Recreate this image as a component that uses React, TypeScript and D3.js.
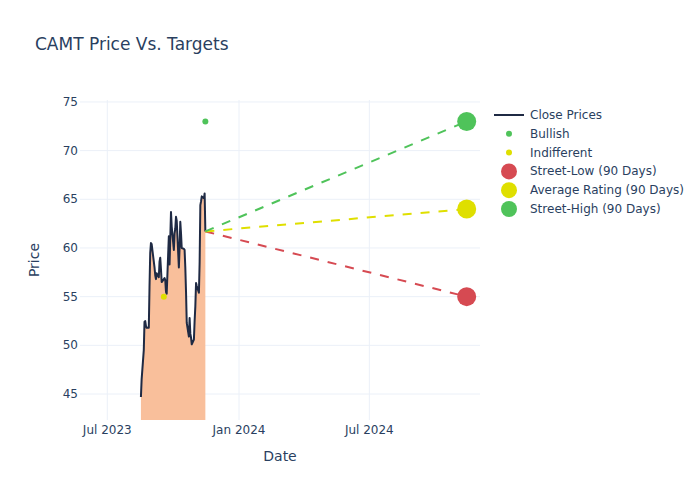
import React from "react";
import * as d3 from "d3";

const priceDates = [
  "2023-08-17","2023-08-18","2023-08-21","2023-08-22","2023-08-23","2023-08-24","2023-08-25",
  "2023-08-28","2023-08-29","2023-08-30","2023-08-31","2023-09-01",
  "2023-09-05","2023-09-06","2023-09-07","2023-09-08",
  "2023-09-11","2023-09-12","2023-09-13","2023-09-14","2023-09-15",
  "2023-09-18","2023-09-19","2023-09-20","2023-09-21","2023-09-22",
  "2023-09-25","2023-09-26","2023-09-27","2023-09-28","2023-09-29",
  "2023-10-02","2023-10-03","2023-10-04","2023-10-05","2023-10-06",
  "2023-10-09","2023-10-10","2023-10-11","2023-10-12","2023-10-13",
  "2023-10-16","2023-10-17","2023-10-18","2023-10-19","2023-10-20",
  "2023-10-23","2023-10-24","2023-10-25","2023-10-26","2023-10-27",
  "2023-10-30","2023-10-31","2023-11-01","2023-11-02","2023-11-03",
  "2023-11-06","2023-11-07","2023-11-08","2023-11-09","2023-11-10",
  "2023-11-13","2023-11-14","2023-11-15",
];
const closePrices = [
  44.7, 46.5, 49.5, 52.4, 52.5, 52.0, 51.8,
  51.8, 56.0, 59.5, 60.5, 60.4,
  58.0, 57.2, 56.8, 57.4,
  57.0, 58.6, 59.0, 57.8, 56.5,
  56.8, 56.9, 56.7, 55.5, 55.3,
  61.2, 58.3, 61.0, 63.7, 62.2,
  59.8, 61.5, 62.0, 63.2, 62.8,
  58.0, 60.0, 62.7, 61.5, 60.0,
  59.9, 59.8, 58.0, 55.5, 52.3,
  50.9, 52.8, 51.2, 50.8, 50.1,
  50.6, 52.5, 54.0, 56.4, 56.1,
  55.4, 58.5, 64.4, 64.8, 65.3,
  65.1, 65.6, 61.7,
];

const bullishDates = ["2023-11-15"];
const bullishValues = [73];
const indifferentDates = ["2023-09-18"];
const indifferentValues = [55];

const targetStartDate = "2023-11-15";
const targetEndDate = "2024-11-14";
const targetNames = ["Street-Low (90 Days)", "Average Rating (90 Days)", "Street-High (90 Days)"];
const targetValues = [55, 64, 73];
const targetColors = ["#d64a52", "#dfdf00", "#4fc35a"];

const yTicks = [45, 50, 55, 60, 65, 70, 75];

const W = 700, H = 500;
const M = { l: 80, r: 220, t: 100, b: 80 };
const FONT = '"DejaVu Sans", Verdana, sans-serif';
const TXT = "#2a3f5f";
const GRID = "#ebf0f8";

const parse = (s: string) => new Date(s + "T00:00:00Z");

export default function App() {
  const x = d3
    .scaleUtc()
    .domain([new Date(Date.UTC(2023, 4, 23, 22)), new Date(Date.UTC(2024, 11, 2, 14))])
    .range([M.l, W - M.r]);
  const y = d3.scaleLinear().domain([42.33, 75.2]).range([H - M.b, M.t]);

  const pts = priceDates.map((d, i) => ({ d: parse(d), v: closePrices[i] }));
  const line = d3.line<{ d: Date; v: number }>().x((p) => x(p.d)).y((p) => y(p.v));
  const area = d3
    .area<{ d: Date; v: number }>()
    .x((p) => x(p.d))
    .y0(y(0))
    .y1((p) => y(p.v));

  const xTicks = x.ticks(d3.utcMonth.every(6)!).filter((t) => x(t) >= M.l && x(t) <= W - M.r);
  const fmt = d3.utcFormat("%b %Y");
  const lastPrice = closePrices[closePrices.length - 1];

  const legendItems = [
    { name: "Close Prices", kind: "line", color: "#1f2a44" },
    { name: "Bullish", kind: "small", color: "#4fc35a" },
    { name: "Indifferent", kind: "small", color: "#dfdf00" },
    ...targetNames.map((n, i) => ({ name: n, kind: "big", color: targetColors[i] })),
  ];

  return (
    <svg
      width={W}
      height={H}
      style={{ position: "absolute", left: 0, top: 0, background: "#fff" }}
      fontFamily={FONT}
    >
      <defs>
        <clipPath id="plot">
          <rect x={M.l} y={M.t} width={W - M.l - M.r} height={H - M.t - M.b} />
        </clipPath>
      </defs>
      <text x={35} y={50} fontSize={17} fill={TXT}>
        CAMT Price Vs. Targets
      </text>
      {/* grid */}
      {yTicks.map((t) => (
        <line key={"gy" + t} x1={M.l} x2={W - M.r} y1={y(t)} y2={y(t)} stroke={GRID} strokeWidth={1} />
      ))}
      {xTicks.map((t) => (
        <line key={"gx" + t.getTime()} x1={x(t)} x2={x(t)} y1={M.t} y2={H - M.b} stroke={GRID} strokeWidth={1} />
      ))}
      <g clipPath="url(#plot)">
        <path d={area(pts)!} fill="#f9bf9b" />
        <path d={line(pts)!} fill="none" stroke="#1f2a44" strokeWidth={2} strokeLinejoin="round" />
        {targetValues.map((v, i) => (
          <line
            key={"tl" + i}
            x1={x(parse(targetStartDate))}
            y1={y(lastPrice)}
            x2={x(parse(targetEndDate))}
            y2={y(v)}
            stroke={targetColors[i]}
            strokeWidth={2}
            strokeDasharray="9,9"
          />
        ))}
        {bullishDates.map((d, i) => (
          <circle key={"b" + i} cx={x(parse(d))} cy={y(bullishValues[i])} r={3} fill="#4fc35a" />
        ))}
        {indifferentDates.map((d, i) => (
          <circle key={"n" + i} cx={x(parse(d))} cy={y(indifferentValues[i])} r={3} fill="#dfdf00" />
        ))}
        {targetValues.map((v, i) => (
          <circle key={"tc" + i} cx={x(parse(targetEndDate))} cy={y(v)} r={9.5} fill={targetColors[i]} />
        ))}
      </g>
      {/* y tick labels */}
      {yTicks.map((t) => (
        <text key={"ty" + t} x={78} y={y(t) + 4} fontSize={12} fill={TXT} textAnchor="end">
          {t}
        </text>
      ))}
      {xTicks.map((t) => (
        <text key={"tx" + t.getTime()} x={x(t)} y={434} fontSize={12} fill={TXT} textAnchor="middle">
          {fmt(t)}
        </text>
      ))}
      <text x={(M.l + W - M.r) / 2} y={461} fontSize={14} fill={TXT} textAnchor="middle">
        Date
      </text>
      <text
        transform={`translate(39,${(M.t + H - M.b) / 2}) rotate(-90)`}
        fontSize={14}
        fill={TXT}
        textAnchor="middle"
      >
        Price
      </text>
      {/* legend */}
      {legendItems.map((it, i) => {
        const cy = 115 + i * 18.8;
        return (
          <g key={"lg" + i}>
            {it.kind === "line" && (
              <line x1={494} x2={524} y1={cy} y2={cy} stroke={it.color} strokeWidth={2} />
            )}
            {it.kind === "small" && <circle cx={509} cy={cy} r={3} fill={it.color} />}
            {it.kind === "big" && <circle cx={509} cy={cy} r={8} fill={it.color} />}
            <text x={530} y={cy + 4} fontSize={12} fill={TXT}>
              {it.name}
            </text>
          </g>
        );
      })}
    </svg>
  );
}
